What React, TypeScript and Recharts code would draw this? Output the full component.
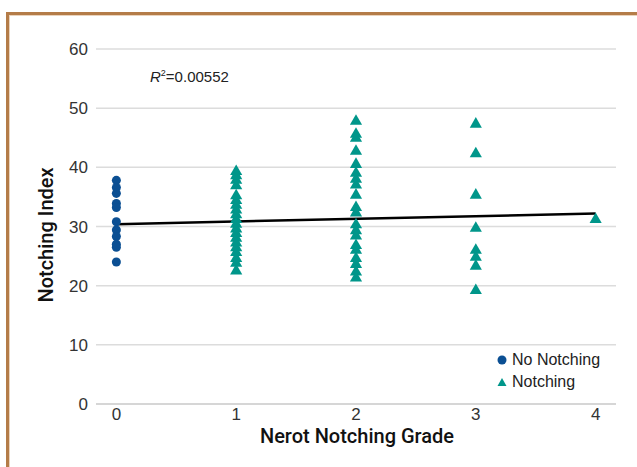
import { ScatterChart, Scatter, XAxis, YAxis, ZAxis, CartesianGrid, ReferenceLine } from 'recharts';

// grade 0 = no notching, grades 1-4 = notching
const noNotchingIndex = [37.8, 36.6, 35.6, 33.9, 33.2, 30.8, 29.4, 28.3, 27.0, 26.5, 24.0];

const grade1Index = [39.3, 38.6, 37.8, 36.9, 35.2, 34.4, 33.6, 32.8, 32.0, 31.2, 30.4, 29.6, 28.8, 28.0, 27.2, 26.4, 25.6, 24.6, 23.8, 22.5];
const grade2Index = [47.8, 45.6, 44.9, 42.7, 40.5, 39.0, 38.0, 37.0, 35.3, 33.2, 32.3, 30.3, 29.3, 28.4, 26.8, 26.0, 24.6, 23.6, 22.3, 21.3];
const grade3Index = [47.3, 42.3, 35.3, 29.7, 26.0, 24.8, 23.3, 19.2];
const grade4Index = [31.2];

const xTicks = [0, 1, 2, 3, 4];
const yTicks = [0, 10, 20, 30, 40, 50, 60];

// linear fit, R^2 = 0.00552
const trendX = [0, 4];
const trendY = [30.4, 32.2];

const noNotching = noNotchingIndex.map((y) => ({ x: 0, y }));
const notching = [
  ...grade1Index.map((y) => ({ x: 1, y })),
  ...grade2Index.map((y) => ({ x: 2, y })),
  ...grade3Index.map((y) => ({ x: 3, y })),
  ...grade4Index.map((y) => ({ x: 4, y })),
];

const font = '"Liberation Sans", Arial, Helvetica, sans-serif';
const titleFont = 'Roboto, "Liberation Sans", Arial, sans-serif';
const BLUE = '#0b4f93';
const TEAL = '#00968a';

export default function App() {
  return (
    <div style={{ position: 'absolute', left: 0, top: 0, width: 637, height: 467, overflow: 'hidden', background: '#fff', fontFamily: font }}>
      <div
        style={{
          position: 'absolute',
          left: 6,
          top: 12,
          width: 650,
          height: 480,
          borderTop: '3px solid #b47c48',
          borderLeft: '3px solid #b47c48',
          boxShadow: 'inset 1px 1px 0 #ead3bc',
        }}
      />
      <ScatterChart width={637} height={467} margin={{ top: 49, right: 21, bottom: 0, left: 0 }} style={{ position: 'absolute', left: 0, top: 0 }}>
        <CartesianGrid vertical={false} stroke="#dcdcdc" strokeWidth={1.5} />
        <XAxis
          type="number"
          dataKey="x"
          domain={[-0.17, 4.17]}
          ticks={xTicks}
          allowDataOverflow
          height={63}
          tickLine={false}
          tickSize={2}
          axisLine={{ stroke: '#d6d6d6', strokeWidth: 2 }}
          tick={{ fill: '#333', fontSize: 17, fontFamily: font }}
        />
        <YAxis
          type="number"
          dataKey="y"
          domain={[0, 60]}
          ticks={yTicks}
          width={96}
          tickLine={false}
          axisLine={false}
          tick={{ fill: '#333', fontSize: 17, fontFamily: font }}
        />
        <ZAxis range={[70, 70]} />
        <ReferenceLine
          segment={[
            { x: trendX[0], y: trendY[0] },
            { x: trendX[1], y: trendY[1] },
          ]}
          stroke="#000"
          strokeWidth={2.5}
          ifOverflow="visible"
        />
        <Scatter name="No Notching" data={noNotching} fill={BLUE} shape="circle" isAnimationActive={false} />
        <Scatter name="Notching" data={notching} fill={TEAL} shape="triangle" isAnimationActive={false} />
        <text x={46} y={235} transform="rotate(-90 46 235)" textAnchor="middle" dominantBaseline="central" fontSize={20} fontWeight={500} fontFamily={titleFont} fill="#111">
          Notching Index
        </text>
        <text x={357} y={443} textAnchor="middle" fontSize={20} fontWeight={500} fontFamily={titleFont} fill="#111">
          Nerot Notching Grade
        </text>
      </ScatterChart>
      <div style={{ position: 'absolute', left: 497, top: 349, fontSize: 16, color: '#222', lineHeight: '22px' }}>
        <div style={{ display: 'flex', alignItems: 'center' }}>
          <svg width={10} height={10} style={{ marginRight: 5 }}>
            <circle cx={5} cy={5} r={4.5} fill={BLUE} />
          </svg>
          No Notching
        </div>
        <div style={{ display: 'flex', alignItems: 'center' }}>
          <svg width={10} height={10} style={{ marginRight: 5 }}>
            <polygon points="5,1 9.5,9 0.5,9" fill={TEAL} />
          </svg>
          Notching
        </div>
      </div>
      <div style={{ position: 'absolute', left: 150, top: 68, fontSize: 15, color: '#222' }}>
        <i>R</i>
        <sup style={{ fontSize: 9 }}>2</sup>=0.00552
      </div>
    </div>
  );
}
